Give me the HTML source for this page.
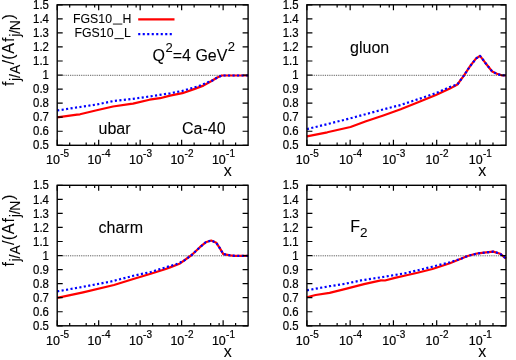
<!DOCTYPE html><html><head><meta charset="utf-8"><title>plot</title><style>html,body{margin:0;padding:0;background:#fff}svg{display:block}text{font-family:"Liberation Sans",sans-serif;fill:#000;stroke:#000;stroke-width:0.08px}.t{stroke-width:0.22px}</style></head><body>
<svg width="516" height="360" viewBox="0 0 516 360">
<rect width="516" height="360" fill="#fff"/>
<line x1="62.70" y1="75.30" x2="242.60" y2="75.30" stroke="#222" stroke-width="0.85" stroke-dasharray="0.85 0.97"/>
<line x1="312.40" y1="75.30" x2="500.50" y2="75.30" stroke="#222" stroke-width="0.85" stroke-dasharray="0.85 0.97"/>
<line x1="62.70" y1="255.80" x2="242.60" y2="255.80" stroke="#222" stroke-width="0.85" stroke-dasharray="0.85 0.97"/>
<line x1="312.40" y1="255.80" x2="500.50" y2="255.80" stroke="#222" stroke-width="0.85" stroke-dasharray="0.85 0.97"/>
<defs><filter id="bl" x="0" y="0" width="100%" height="100%" filterUnits="userSpaceOnUse"><feGaussianBlur stdDeviation="0.42"/></filter></defs><g filter="url(#bl)">
<polyline points="57.2,117.3 77.0,114.6 80.0,114.3 96.7,110.3 113.0,106.5 130.9,103.8 133.0,103.6 149.5,99.7 160.0,98.2 170.0,95.6 182.4,93.2 194.0,89.1 203.4,85.6 211.5,81.0 217.3,77.5 221.8,75.5 248.1,75.5" fill="none" stroke="#ff0000" stroke-width="2.2" stroke-linejoin="round"/>
<polyline points="57.2,110.5 77.0,107.4 96.7,104.5 113.0,101.1 130.9,99.1 149.5,96.5 170.0,93.3 182.4,90.9 190.0,88.6 198.7,86.2 206.9,82.7 211.5,81.0 217.3,77.5 221.8,75.5 248.1,75.5" fill="none" stroke="#0000ff" stroke-width="2.2" stroke-dasharray="2.1 2.4" stroke-linejoin="round"/>
<path d="M57.20 145.30h5.5M248.10 145.30h-5.5M57.20 131.25h5.5M248.10 131.25h-5.5M57.20 117.20h5.5M248.10 117.20h-5.5M57.20 103.15h5.5M248.10 103.15h-5.5M57.20 89.10h5.5M248.10 89.10h-5.5M57.20 75.05h5.5M248.10 75.05h-5.5M57.20 61.00h5.5M248.10 61.00h-5.5M57.20 46.95h5.5M248.10 46.95h-5.5M57.20 32.90h5.5M248.10 32.90h-5.5M57.20 18.85h5.5M248.10 18.85h-5.5M57.20 4.80h5.5M248.10 4.80h-5.5M57.20 4.80v5.5M57.20 145.30v-5.5M69.69 4.80v2.7M69.69 145.30v-2.7M86.19 4.80v2.7M86.19 145.30v-2.7M94.66 4.80v2.7M94.66 145.30v-2.7M98.68 4.80v5.5M98.68 145.30v-5.5M111.17 4.80v2.7M111.17 145.30v-2.7M127.68 4.80v2.7M127.68 145.30v-2.7M136.14 4.80v2.7M136.14 145.30v-2.7M140.16 4.80v5.5M140.16 145.30v-5.5M152.65 4.80v2.7M152.65 145.30v-2.7M169.16 4.80v2.7M169.16 145.30v-2.7M177.62 4.80v2.7M177.62 145.30v-2.7M181.64 4.80v5.5M181.64 145.30v-5.5M194.13 4.80v2.7M194.13 145.30v-2.7M210.64 4.80v2.7M210.64 145.30v-2.7M219.11 4.80v2.7M219.11 145.30v-2.7M223.13 4.80v5.5M223.13 145.30v-5.5M235.61 4.80v2.7M235.61 145.30v-2.7" stroke="#000" stroke-width="1.2" fill="none"/>
<rect x="57.20" y="4.80" width="190.90" height="140.50" fill="none" stroke="#000" stroke-width="1.4"/>
<text class="t" transform="translate(48.90 149.45) scale(0.95 1)" font-size="12" text-anchor="end">0.5</text>
<text class="t" transform="translate(48.90 135.40) scale(0.95 1)" font-size="12" text-anchor="end">0.6</text>
<text class="t" transform="translate(48.90 121.35) scale(0.95 1)" font-size="12" text-anchor="end">0.7</text>
<text class="t" transform="translate(48.90 107.30) scale(0.95 1)" font-size="12" text-anchor="end">0.8</text>
<text class="t" transform="translate(48.90 93.25) scale(0.95 1)" font-size="12" text-anchor="end">0.9</text>
<text class="t" transform="translate(48.90 79.20) scale(0.95 1)" font-size="12" text-anchor="end">1</text>
<text class="t" transform="translate(48.90 65.15) scale(0.95 1)" font-size="12" text-anchor="end">1.1</text>
<text class="t" transform="translate(48.90 51.10) scale(0.95 1)" font-size="12" text-anchor="end">1.2</text>
<text class="t" transform="translate(48.90 37.05) scale(0.95 1)" font-size="12" text-anchor="end">1.3</text>
<text class="t" transform="translate(48.90 23.00) scale(0.95 1)" font-size="12" text-anchor="end">1.4</text>
<text class="t" transform="translate(48.90 8.95) scale(0.95 1)" font-size="12" text-anchor="end">1.5</text>
<text class="t" transform="translate(57.50 164.30) scale(0.96 1)" font-size="13" text-anchor="middle">10<tspan dx="0.3" dy="-7.1" font-size="10.4">-5</tspan></text>
<text class="t" transform="translate(98.98 164.30) scale(0.96 1)" font-size="13" text-anchor="middle">10<tspan dx="0.3" dy="-7.1" font-size="10.4">-4</tspan></text>
<text class="t" transform="translate(140.46 164.30) scale(0.96 1)" font-size="13" text-anchor="middle">10<tspan dx="0.3" dy="-7.1" font-size="10.4">-3</tspan></text>
<text class="t" transform="translate(181.94 164.30) scale(0.96 1)" font-size="13" text-anchor="middle">10<tspan dx="0.3" dy="-7.1" font-size="10.4">-2</tspan></text>
<text class="t" transform="translate(223.43 164.30) scale(0.96 1)" font-size="13" text-anchor="middle">10<tspan dx="0.3" dy="-7.1" font-size="10.4">-1</tspan></text>
<text transform="translate(227.83 176.30) scale(1 1)" font-size="16" text-anchor="middle">x</text>
<polyline points="306.9,136.3 327.3,132.3 350.5,127.0 366.0,121.3 383.3,115.5 400.7,109.3 417.5,102.5 435.9,95.0 449.9,88.6 457.4,84.5 463.7,75.8 470.1,66.2 475.9,58.7 480.0,55.8 485.2,62.7 492.2,71.5 496.9,73.8 501.5,75.3 506.0,75.5" fill="none" stroke="#ff0000" stroke-width="2.2" stroke-linejoin="round"/>
<polyline points="306.9,129.1 327.3,124.1 350.5,118.3 362.0,115.2 383.3,109.4 400.7,105.0 417.5,99.4 435.9,93.2 449.9,87.0 457.4,84.5 463.7,75.8 470.1,66.2 475.9,58.7 480.0,55.8 485.2,62.7 492.2,71.5 496.9,73.8 501.5,75.3 506.0,75.5" fill="none" stroke="#0000ff" stroke-width="2.2" stroke-dasharray="2.1 2.4" stroke-linejoin="round"/>
<path d="M306.90 145.30h5.5M506.00 145.30h-5.5M306.90 131.25h5.5M506.00 131.25h-5.5M306.90 117.20h5.5M506.00 117.20h-5.5M306.90 103.15h5.5M506.00 103.15h-5.5M306.90 89.10h5.5M506.00 89.10h-5.5M306.90 75.05h5.5M506.00 75.05h-5.5M306.90 61.00h5.5M506.00 61.00h-5.5M306.90 46.95h5.5M506.00 46.95h-5.5M306.90 32.90h5.5M506.00 32.90h-5.5M306.90 18.85h5.5M506.00 18.85h-5.5M306.90 4.80h5.5M506.00 4.80h-5.5M306.90 4.80v5.5M306.90 145.30v-5.5M319.92 4.80v2.7M319.92 145.30v-2.7M337.14 4.80v2.7M337.14 145.30v-2.7M345.97 4.80v2.7M345.97 145.30v-2.7M350.16 4.80v5.5M350.16 145.30v-5.5M363.19 4.80v2.7M363.19 145.30v-2.7M380.40 4.80v2.7M380.40 145.30v-2.7M389.23 4.80v2.7M389.23 145.30v-2.7M393.43 4.80v5.5M393.43 145.30v-5.5M406.45 4.80v2.7M406.45 145.30v-2.7M423.67 4.80v2.7M423.67 145.30v-2.7M432.50 4.80v2.7M432.50 145.30v-2.7M436.69 4.80v5.5M436.69 145.30v-5.5M449.71 4.80v2.7M449.71 145.30v-2.7M466.93 4.80v2.7M466.93 145.30v-2.7M475.76 4.80v2.7M475.76 145.30v-2.7M479.95 4.80v5.5M479.95 145.30v-5.5M492.98 4.80v2.7M492.98 145.30v-2.7" stroke="#000" stroke-width="1.2" fill="none"/>
<rect x="306.90" y="4.80" width="199.10" height="140.50" fill="none" stroke="#000" stroke-width="1.4"/>
<text class="t" transform="translate(298.60 149.45) scale(0.95 1)" font-size="12" text-anchor="end">0.5</text>
<text class="t" transform="translate(298.60 135.40) scale(0.95 1)" font-size="12" text-anchor="end">0.6</text>
<text class="t" transform="translate(298.60 121.35) scale(0.95 1)" font-size="12" text-anchor="end">0.7</text>
<text class="t" transform="translate(298.60 107.30) scale(0.95 1)" font-size="12" text-anchor="end">0.8</text>
<text class="t" transform="translate(298.60 93.25) scale(0.95 1)" font-size="12" text-anchor="end">0.9</text>
<text class="t" transform="translate(298.60 79.20) scale(0.95 1)" font-size="12" text-anchor="end">1</text>
<text class="t" transform="translate(298.60 65.15) scale(0.95 1)" font-size="12" text-anchor="end">1.1</text>
<text class="t" transform="translate(298.60 51.10) scale(0.95 1)" font-size="12" text-anchor="end">1.2</text>
<text class="t" transform="translate(298.60 37.05) scale(0.95 1)" font-size="12" text-anchor="end">1.3</text>
<text class="t" transform="translate(298.60 23.00) scale(0.95 1)" font-size="12" text-anchor="end">1.4</text>
<text class="t" transform="translate(298.60 8.95) scale(0.95 1)" font-size="12" text-anchor="end">1.5</text>
<text class="t" transform="translate(307.20 164.30) scale(0.96 1)" font-size="13" text-anchor="middle">10<tspan dx="0.3" dy="-7.1" font-size="10.4">-5</tspan></text>
<text class="t" transform="translate(350.46 164.30) scale(0.96 1)" font-size="13" text-anchor="middle">10<tspan dx="0.3" dy="-7.1" font-size="10.4">-4</tspan></text>
<text class="t" transform="translate(393.73 164.30) scale(0.96 1)" font-size="13" text-anchor="middle">10<tspan dx="0.3" dy="-7.1" font-size="10.4">-3</tspan></text>
<text class="t" transform="translate(436.99 164.30) scale(0.96 1)" font-size="13" text-anchor="middle">10<tspan dx="0.3" dy="-7.1" font-size="10.4">-2</tspan></text>
<text class="t" transform="translate(480.25 164.30) scale(0.96 1)" font-size="13" text-anchor="middle">10<tspan dx="0.3" dy="-7.1" font-size="10.4">-1</tspan></text>
<text transform="translate(482.25 176.30) scale(1 1)" font-size="16" text-anchor="middle">x</text>
<polyline points="57.2,297.9 83.1,292.3 114.0,285.0 133.3,279.0 150.7,273.8 165.0,269.3 170.0,267.4 180.1,263.4 191.7,255.0 199.9,247.2 205.7,242.3 211.2,240.5 216.3,242.8 219.8,248.1 223.3,254.1 230.2,255.3 234.9,255.8 248.1,255.9" fill="none" stroke="#ff0000" stroke-width="2.2" stroke-linejoin="round"/>
<polyline points="57.2,291.4 83.1,286.8 111.0,281.5 133.3,275.8 150.7,272.0 167.3,266.9 176.0,264.3 180.1,262.6 184.0,260.7 191.7,255.0 199.9,247.2 205.7,242.3 211.2,240.5 216.3,242.8 219.8,248.1 223.3,254.1 230.2,255.3 234.9,255.8 248.1,255.9" fill="none" stroke="#0000ff" stroke-width="2.2" stroke-dasharray="2.1 2.4" stroke-linejoin="round"/>
<path d="M57.20 325.80h5.5M248.10 325.80h-5.5M57.20 311.75h5.5M248.10 311.75h-5.5M57.20 297.70h5.5M248.10 297.70h-5.5M57.20 283.65h5.5M248.10 283.65h-5.5M57.20 269.60h5.5M248.10 269.60h-5.5M57.20 255.55h5.5M248.10 255.55h-5.5M57.20 241.50h5.5M248.10 241.50h-5.5M57.20 227.45h5.5M248.10 227.45h-5.5M57.20 213.40h5.5M248.10 213.40h-5.5M57.20 199.35h5.5M248.10 199.35h-5.5M57.20 185.30h5.5M248.10 185.30h-5.5M57.20 185.30v5.5M57.20 325.80v-5.5M69.69 185.30v2.7M69.69 325.80v-2.7M86.19 185.30v2.7M86.19 325.80v-2.7M94.66 185.30v2.7M94.66 325.80v-2.7M98.68 185.30v5.5M98.68 325.80v-5.5M111.17 185.30v2.7M111.17 325.80v-2.7M127.68 185.30v2.7M127.68 325.80v-2.7M136.14 185.30v2.7M136.14 325.80v-2.7M140.16 185.30v5.5M140.16 325.80v-5.5M152.65 185.30v2.7M152.65 325.80v-2.7M169.16 185.30v2.7M169.16 325.80v-2.7M177.62 185.30v2.7M177.62 325.80v-2.7M181.64 185.30v5.5M181.64 325.80v-5.5M194.13 185.30v2.7M194.13 325.80v-2.7M210.64 185.30v2.7M210.64 325.80v-2.7M219.11 185.30v2.7M219.11 325.80v-2.7M223.13 185.30v5.5M223.13 325.80v-5.5M235.61 185.30v2.7M235.61 325.80v-2.7" stroke="#000" stroke-width="1.2" fill="none"/>
<rect x="57.20" y="185.30" width="190.90" height="140.50" fill="none" stroke="#000" stroke-width="1.4"/>
<text class="t" transform="translate(48.90 329.95) scale(0.95 1)" font-size="12" text-anchor="end">0.5</text>
<text class="t" transform="translate(48.90 315.90) scale(0.95 1)" font-size="12" text-anchor="end">0.6</text>
<text class="t" transform="translate(48.90 301.85) scale(0.95 1)" font-size="12" text-anchor="end">0.7</text>
<text class="t" transform="translate(48.90 287.80) scale(0.95 1)" font-size="12" text-anchor="end">0.8</text>
<text class="t" transform="translate(48.90 273.75) scale(0.95 1)" font-size="12" text-anchor="end">0.9</text>
<text class="t" transform="translate(48.90 259.70) scale(0.95 1)" font-size="12" text-anchor="end">1</text>
<text class="t" transform="translate(48.90 245.65) scale(0.95 1)" font-size="12" text-anchor="end">1.1</text>
<text class="t" transform="translate(48.90 231.60) scale(0.95 1)" font-size="12" text-anchor="end">1.2</text>
<text class="t" transform="translate(48.90 217.55) scale(0.95 1)" font-size="12" text-anchor="end">1.3</text>
<text class="t" transform="translate(48.90 203.50) scale(0.95 1)" font-size="12" text-anchor="end">1.4</text>
<text class="t" transform="translate(48.90 189.45) scale(0.95 1)" font-size="12" text-anchor="end">1.5</text>
<text class="t" transform="translate(57.50 344.80) scale(0.96 1)" font-size="13" text-anchor="middle">10<tspan dx="0.3" dy="-7.1" font-size="10.4">-5</tspan></text>
<text class="t" transform="translate(98.98 344.80) scale(0.96 1)" font-size="13" text-anchor="middle">10<tspan dx="0.3" dy="-7.1" font-size="10.4">-4</tspan></text>
<text class="t" transform="translate(140.46 344.80) scale(0.96 1)" font-size="13" text-anchor="middle">10<tspan dx="0.3" dy="-7.1" font-size="10.4">-3</tspan></text>
<text class="t" transform="translate(181.94 344.80) scale(0.96 1)" font-size="13" text-anchor="middle">10<tspan dx="0.3" dy="-7.1" font-size="10.4">-2</tspan></text>
<text class="t" transform="translate(223.43 344.80) scale(0.96 1)" font-size="13" text-anchor="middle">10<tspan dx="0.3" dy="-7.1" font-size="10.4">-1</tspan></text>
<text transform="translate(227.83 356.80) scale(1 1)" font-size="16" text-anchor="middle">x</text>
<polyline points="306.9,297.3 315.6,295.0 329.6,292.9 344.7,289.1 364.0,284.1 380.9,280.4 385.0,280.5 394.9,277.9 406.5,275.3 417.5,272.7 432.4,269.0 449.9,263.2 461.5,258.6 467.6,256.0 473.1,254.5 478.1,253.3 486.2,252.4 493.2,251.6 500.2,253.7 506.0,258.6" fill="none" stroke="#ff0000" stroke-width="2.2" stroke-linejoin="round"/>
<polyline points="306.9,290.3 329.6,286.2 344.7,283.9 361.0,280.4 380.9,277.3 394.9,275.0 406.5,273.0 418.0,270.2 432.4,266.7 449.9,262.3 456.0,260.3 461.5,258.6 467.6,256.0 473.1,254.5 478.1,253.3 486.2,252.4 493.2,251.6 500.2,253.7 506.0,258.6" fill="none" stroke="#0000ff" stroke-width="2.2" stroke-dasharray="2.1 2.4" stroke-linejoin="round"/>
<path d="M306.90 325.80h5.5M506.00 325.80h-5.5M306.90 311.75h5.5M506.00 311.75h-5.5M306.90 297.70h5.5M506.00 297.70h-5.5M306.90 283.65h5.5M506.00 283.65h-5.5M306.90 269.60h5.5M506.00 269.60h-5.5M306.90 255.55h5.5M506.00 255.55h-5.5M306.90 241.50h5.5M506.00 241.50h-5.5M306.90 227.45h5.5M506.00 227.45h-5.5M306.90 213.40h5.5M506.00 213.40h-5.5M306.90 199.35h5.5M506.00 199.35h-5.5M306.90 185.30h5.5M506.00 185.30h-5.5M306.90 185.30v5.5M306.90 325.80v-5.5M319.92 185.30v2.7M319.92 325.80v-2.7M337.14 185.30v2.7M337.14 325.80v-2.7M345.97 185.30v2.7M345.97 325.80v-2.7M350.16 185.30v5.5M350.16 325.80v-5.5M363.19 185.30v2.7M363.19 325.80v-2.7M380.40 185.30v2.7M380.40 325.80v-2.7M389.23 185.30v2.7M389.23 325.80v-2.7M393.43 185.30v5.5M393.43 325.80v-5.5M406.45 185.30v2.7M406.45 325.80v-2.7M423.67 185.30v2.7M423.67 325.80v-2.7M432.50 185.30v2.7M432.50 325.80v-2.7M436.69 185.30v5.5M436.69 325.80v-5.5M449.71 185.30v2.7M449.71 325.80v-2.7M466.93 185.30v2.7M466.93 325.80v-2.7M475.76 185.30v2.7M475.76 325.80v-2.7M479.95 185.30v5.5M479.95 325.80v-5.5M492.98 185.30v2.7M492.98 325.80v-2.7" stroke="#000" stroke-width="1.2" fill="none"/>
<rect x="306.90" y="185.30" width="199.10" height="140.50" fill="none" stroke="#000" stroke-width="1.4"/>
<text class="t" transform="translate(298.60 329.95) scale(0.95 1)" font-size="12" text-anchor="end">0.5</text>
<text class="t" transform="translate(298.60 315.90) scale(0.95 1)" font-size="12" text-anchor="end">0.6</text>
<text class="t" transform="translate(298.60 301.85) scale(0.95 1)" font-size="12" text-anchor="end">0.7</text>
<text class="t" transform="translate(298.60 287.80) scale(0.95 1)" font-size="12" text-anchor="end">0.8</text>
<text class="t" transform="translate(298.60 273.75) scale(0.95 1)" font-size="12" text-anchor="end">0.9</text>
<text class="t" transform="translate(298.60 259.70) scale(0.95 1)" font-size="12" text-anchor="end">1</text>
<text class="t" transform="translate(298.60 245.65) scale(0.95 1)" font-size="12" text-anchor="end">1.1</text>
<text class="t" transform="translate(298.60 231.60) scale(0.95 1)" font-size="12" text-anchor="end">1.2</text>
<text class="t" transform="translate(298.60 217.55) scale(0.95 1)" font-size="12" text-anchor="end">1.3</text>
<text class="t" transform="translate(298.60 203.50) scale(0.95 1)" font-size="12" text-anchor="end">1.4</text>
<text class="t" transform="translate(298.60 189.45) scale(0.95 1)" font-size="12" text-anchor="end">1.5</text>
<text class="t" transform="translate(307.20 344.80) scale(0.96 1)" font-size="13" text-anchor="middle">10<tspan dx="0.3" dy="-7.1" font-size="10.4">-5</tspan></text>
<text class="t" transform="translate(350.46 344.80) scale(0.96 1)" font-size="13" text-anchor="middle">10<tspan dx="0.3" dy="-7.1" font-size="10.4">-4</tspan></text>
<text class="t" transform="translate(393.73 344.80) scale(0.96 1)" font-size="13" text-anchor="middle">10<tspan dx="0.3" dy="-7.1" font-size="10.4">-3</tspan></text>
<text class="t" transform="translate(436.99 344.80) scale(0.96 1)" font-size="13" text-anchor="middle">10<tspan dx="0.3" dy="-7.1" font-size="10.4">-2</tspan></text>
<text class="t" transform="translate(480.25 344.80) scale(0.96 1)" font-size="13" text-anchor="middle">10<tspan dx="0.3" dy="-7.1" font-size="10.4">-1</tspan></text>
<text transform="translate(482.25 356.80) scale(1 1)" font-size="16" text-anchor="middle">x</text>
<g transform="translate(13.6 86.00) rotate(-90)">
<text x="0" y="0" font-size="16">f</text>
<text x="4.9" y="6.0" font-size="14">j</text>
<text x="8.0" y="6.2" font-size="14">/</text>
<text x="12.1" y="6.0" font-size="14">A</text>
<text x="21.55" y="0" font-size="16">/</text>
<text x="26.2" y="0" font-size="16">(</text>
<text x="32.2" y="0" font-size="16">A</text>
<text x="44.0" y="0" font-size="16">f</text>
<text x="49.3" y="6.0" font-size="14">j</text>
<text x="52.3" y="6.2" font-size="14">/</text>
<text x="55.65" y="6.0" font-size="14">N</text>
<text x="66.5" y="0" font-size="16">)</text>
</g>
<g transform="translate(13.6 266.50) rotate(-90)">
<text x="0" y="0" font-size="16">f</text>
<text x="4.9" y="6.0" font-size="14">j</text>
<text x="8.0" y="6.2" font-size="14">/</text>
<text x="12.1" y="6.0" font-size="14">A</text>
<text x="21.55" y="0" font-size="16">/</text>
<text x="26.2" y="0" font-size="16">(</text>
<text x="32.2" y="0" font-size="16">A</text>
<text x="44.0" y="0" font-size="16">f</text>
<text x="49.3" y="6.0" font-size="14">j</text>
<text x="52.3" y="6.2" font-size="14">/</text>
<text x="55.65" y="6.0" font-size="14">N</text>
<text x="66.5" y="0" font-size="16">)</text>
</g>
<text transform="translate(98.50 134.20) scale(1 1)" font-size="16" text-anchor="start">ubar</text>
<text transform="translate(182.00 134.20) scale(1 1)" font-size="16" text-anchor="start">Ca-40</text>
<text transform="translate(152.50 60.60) scale(1 1)" font-size="16" text-anchor="start">Q<tspan dx="0.5" dy="-8.5" font-size="13">2</tspan><tspan dy="8.5">=4 GeV</tspan><tspan dx="0.4" dy="-9.2" font-size="13">2</tspan></text>
<text transform="translate(350.10 52.70) scale(1 1)" font-size="16" text-anchor="start">gluon</text>
<text transform="translate(98.50 233.20) scale(1 1)" font-size="16" text-anchor="start">charm</text>
<text transform="translate(350.20 231.80) scale(1 1)" font-size="16" text-anchor="start">F<tspan dy="5.6" font-size="13.5">2</tspan></text>
<text transform="translate(112.00 22.60) scale(1 1)" font-size="12.3" text-anchor="end">FGS10</text>
<rect x="112.9" y="23.60" width="9.4" height="0.9" fill="#000"/>
<text transform="translate(122.60 22.60) scale(1 1)" font-size="12.3" text-anchor="start">H</text>
<text transform="translate(113.50 37.20) scale(1 1)" font-size="12.3" text-anchor="end">FGS10</text>
<rect x="114.4" y="38.20" width="9.4" height="0.9" fill="#000"/>
<text transform="translate(124.10 37.20) scale(1 1)" font-size="12.3" text-anchor="start">L</text>
<line x1="138.2" y1="19.3" x2="174.5" y2="19.3" stroke="#ff0000" stroke-width="2.2"/>
<line x1="138.2" y1="34.1" x2="172.4" y2="34.1" stroke="#0000ff" stroke-width="2.2" stroke-dasharray="2.1 2.4"/>
</g></svg></body></html>
